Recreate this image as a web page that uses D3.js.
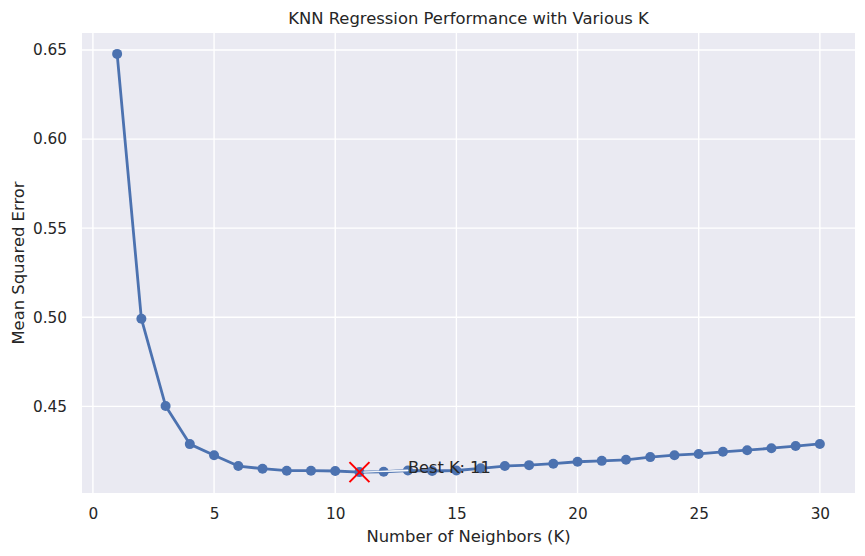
<!DOCTYPE html>
<html>
<head>
<meta charset="utf-8">
<script src="https://cdn.jsdelivr.net/npm/d3@7"></script>
<style>
  html, body { margin: 0; padding: 0; background: #ffffff; }
  svg { display: block; font-family: "DejaVu Sans", sans-serif; }
</style>
</head>
<body>
<svg id="chart" width="865" height="556"></svg>
<script>
// ---- Data ----
const kValues = [1,2,3,4,5,6,7,8,9,10,11,12,13,14,15,16,17,18,19,20,21,22,23,24,25,26,27,28,29,30];
const mseValues = [0.6478,0.4992,0.4502,0.4288,0.4226,0.4165,0.4150,0.4139,0.4139,0.4137,0.4131,0.4133,0.4140,0.4137,0.4140,0.4152,0.4165,0.4170,0.4178,0.4189,0.4194,0.4200,0.4215,0.4226,0.4233,0.4245,0.4254,0.4265,0.4277,0.4289];
const xTicks = [0,5,10,15,20,25,30];
const yTicks = [0.45,0.50,0.55,0.60,0.65];
const bestK = 11;
const titleText = "KNN Regression Performance with Various K";
const xLabel = "Number of Neighbors (K)";
const yLabel = "Mean Squared Error";
const annotationText = "Best K: 11";

// ---- Layout ----
const svg = d3.select("#chart");
const plot = { left: 82, right: 855, top: 33, bottom: 493 };

const xMin = d3.min(kValues), xMax = d3.max(kValues);
const xPad = (xMax - xMin) * 0.05;
const yMin = d3.min(mseValues), yMax = d3.max(mseValues);
const yPad = (yMax - yMin) * 0.05;

const x = d3.scaleLinear().domain([xMin - xPad, xMax + xPad]).range([plot.left, plot.right]);
const y = d3.scaleLinear().domain([yMin - yPad, yMax + yPad]).range([plot.bottom, plot.top]);

// background
svg.append("rect")
  .attr("x", plot.left).attr("y", plot.top)
  .attr("width", plot.right - plot.left).attr("height", plot.bottom - plot.top)
  .attr("fill", "#EAEAF2");

// grid
const grid = svg.append("g");
grid.selectAll("line.vx").data(xTicks).enter().append("line")
  .attr("x1", d => x(d)).attr("x2", d => x(d))
  .attr("y1", plot.top).attr("y2", plot.bottom)
  .attr("stroke", "#ffffff").attr("stroke-width", 1.4);
grid.selectAll("line.hy").data(yTicks).enter().append("line")
  .attr("y1", d => y(d)).attr("y2", d => y(d))
  .attr("x1", plot.left).attr("x2", plot.right)
  .attr("stroke", "#ffffff").attr("stroke-width", 1.4);

// axes (no tick marks, no domain)
const xAxis = d3.axisBottom(x).tickValues(xTicks).tickSize(0).tickPadding(0).tickFormat(d3.format("d"));
const gx = svg.append("g").attr("transform", `translate(0,${plot.bottom + 15})`).call(xAxis);
gx.select(".domain").remove();
gx.selectAll("text").attr("font-size", "15.3px").attr("fill", "#262626")
  .attr("font-family", "DejaVu Sans, sans-serif").attr("dy", "0.71em");

const yAxis = d3.axisLeft(y).tickValues(yTicks).tickSize(0).tickPadding(0).tickFormat(d3.format(".2f"));
const gy = svg.append("g").attr("transform", `translate(${plot.left - 15},0)`).call(yAxis);
gy.select(".domain").remove();
gy.selectAll("text").attr("font-size", "15.3px").attr("fill", "#262626")
  .attr("font-family", "DejaVu Sans, sans-serif");

// line
const data = kValues.map((k, i) => ({ k, v: mseValues[i] }));
svg.append("path").datum(data)
  .attr("fill", "none").attr("stroke", "#4C72B0").attr("stroke-width", 2.8)
  .attr("stroke-linejoin", "round").attr("stroke-linecap", "round")
  .attr("d", d3.line().x(d => x(d.k)).y(d => y(d.v)));

svg.append("g").selectAll("circle").data(data).enter().append("circle")
  .attr("cx", d => x(d.k)).attr("cy", d => y(d.v)).attr("r", 5)
  .attr("fill", "#4C72B0");

// best K marker and annotation
const bestV = mseValues[kValues.indexOf(bestK)];
const bx = x(bestK), by = y(bestV);
const textX = x(13);
const textY = by;

// annotation arrow (thin white wedge)
svg.append("path")
  .attr("d", `M${bx + 4},${by} L${textX},${textY - 2.2} L${textX},${textY - 1.2} Z`)
  .attr("fill", "#ffffff").attr("stroke", "#ffffff").attr("stroke-width", 0.8);

const s = 10;
svg.append("path")
  .attr("d", `M${bx - s},${by - s} L${bx + s},${by + s} M${bx - s},${by + s} L${bx + s},${by - s}`)
  .attr("stroke", "#FF0000").attr("stroke-width", 2).attr("fill", "none");

svg.append("text")
  .attr("x", textX).attr("y", textY + 1)
  .attr("font-size", "16.2px").attr("fill", "#262626")
  .text(annotationText);

// title & labels
svg.append("text")
  .attr("x", (plot.left + plot.right) / 2).attr("y", 24)
  .attr("text-anchor", "middle").attr("font-size", "16.4px").attr("fill", "#262626")
  .text(titleText);

svg.append("text")
  .attr("x", (plot.left + plot.right) / 2).attr("y", 542)
  .attr("text-anchor", "middle").attr("font-size", "16.4px").attr("fill", "#262626")
  .text(xLabel);

svg.append("text")
  .attr("transform", `translate(24,${(plot.top + plot.bottom) / 2}) rotate(-90)`)
  .attr("text-anchor", "middle").attr("font-size", "16.4px").attr("fill", "#262626")
  .text(yLabel);
</script>
</body>
</html>
